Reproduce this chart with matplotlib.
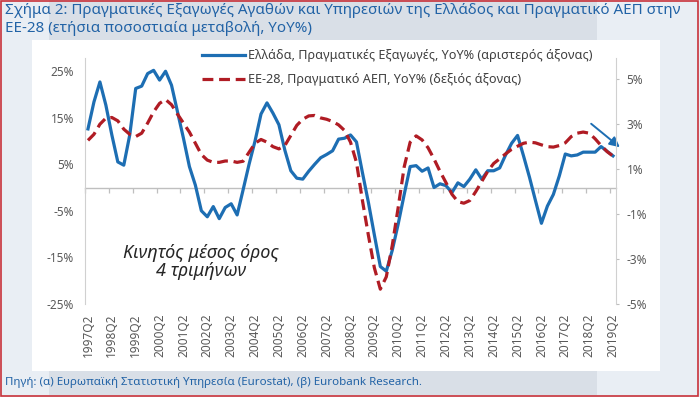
import matplotlib
matplotlib.use("Agg")
import matplotlib.pyplot as plt
from matplotlib.lines import Line2D
from matplotlib.patches import Rectangle
import numpy as np

plt.rcParams['font.family'] = ['Noto Sans', 'DejaVu Sans']

# ---- data ----
# quarterly categories 1997Q2 .. 2019Q2
quarters = []
yy, qq = 1997, 2
while (yy, qq) <= (2019, 2):
    quarters.append(f"{yy}Q{qq}")
    qq += 1
    if qq == 5:
        qq = 1
        yy += 1

greece_exports = [12.6, 18.4, 22.7, 17.7, 11.3, 5.5, 4.8, 11.3, 21.3, 21.8,
                  24.5, 25.2, 23.1, 25.0, 22.0, 16.3, 10.6, 4.5, 0.5, -5.0,
                  -6.3, -4.1, -6.7, -4.3, -3.5, -5.9, -0.5, 5.0, 10.0, 15.8,
                  18.2, 16.0, 13.5, 8.0, 3.6, 2.0, 1.8, 3.5, 5.0, 6.4,
                  7.1, 7.9, 10.4, 10.6, 11.3, 9.8, 3.2, -3.2, -10.2, -17.0,
                  -18.0, -13.5, -7.8, -1.5, 4.5, 4.7, 3.5, 4.2, 0.0, 0.8,
                  0.4, -1.1, 1.0, 0.2, 1.8, 3.8, 1.8, 3.6, 3.6, 4.2,
                  7.0, 9.5, 11.2, 6.8, 2.2, -2.8, -7.7, -4.0, -1.5, 2.5,
                  7.2, 6.8, 7.0, 7.6, 7.6, 7.6, 8.8, 7.8, 6.8]

eu28_gdp = [2.28, 2.55, 3.0, 3.27, 3.3, 3.15, 2.78, 2.55, 2.45, 2.6,
            3.05, 3.55, 3.93, 4.1, 3.87, 3.45, 3.05, 2.65, 2.15, 1.65,
            1.4, 1.3, 1.3, 1.36, 1.36, 1.3, 1.35, 1.75, 2.15, 2.32,
            2.2, 2.0, 1.9, 2.05, 2.5, 2.95, 3.22, 3.37, 3.39, 3.28,
            3.22, 3.12, 2.97, 2.72, 2.2, 1.3, -0.4, -1.95, -3.4, -4.35,
            -3.8, -2.4, -0.7, 1.1, 2.2, 2.48, 2.3, 1.95, 1.45, 0.9,
            0.4, -0.12, -0.45, -0.52, -0.4, 0.0, 0.45, 0.9, 1.25, 1.46,
            1.68, 1.88, 2.02, 2.15, 2.2, 2.17, 2.08, 2.0, 1.98, 2.05,
            2.17, 2.45, 2.6, 2.65, 2.6, 2.35, 2.05, 1.78, 1.58]

left_ticks = [-25, -15, -5, 5, 15, 25]
right_ticks = [-5, -3, -1, 1, 3, 5]

title = ("Σχήμα 2: Πραγματικές Εξαγωγές Αγαθών και Υπηρεσιών της Ελλάδος και Πραγματικό ΑΕΠ στην\n"
         "ΕΕ-28 (ετήσια ποσοστιαία μεταβολή, YoY%)")
source = "Πηγή: (α) Ευρωπαϊκή Στατιστική Υπηρεσία (Eurostat), (β) Eurobank Research."
label_gr = "Ελλάδα, Πραγματικές Εξαγωγές, YoY% (αριστερός άξονας)"
label_eu = "ΕΕ-28, Πραγματικό ΑΕΠ, YoY% (δεξιός άξονας)"
note = "Κινητός μέσος όρος\n4 τριμήνων"

BLUE = '#1d6eb3'
RED = '#b01c24'
TXT_BLUE = '#2263a6'
GRAY = '#595959'

W, H = 700, 397
fig = plt.figure(figsize=(W / 100, H / 100), dpi=100, facecolor='#e9eef4')

def px(x, y):
    return (x / W, 1 - y / H)

# background bands and white panel
fig.patches.append(Rectangle(px(49, 40), (597 - 49) / W, 40 / H, transform=fig.transFigure,
                             facecolor='#d9dfe7', edgecolor='none', zorder=-3))
fig.patches.append(Rectangle(px(49, 395), (597 - 49) / W, 24 / H, transform=fig.transFigure,
                             facecolor='#d9dfe7', edgecolor='none', zorder=-3))
fig.patches.append(Rectangle(px(32, 371), (660 - 32) / W, (371 - 40) / H, transform=fig.transFigure,
                             facecolor='white', edgecolor='none', zorder=-2))
fig.patches.append(Rectangle((0.0015, 0.002), 0.996, 0.996, transform=fig.transFigure,
                             facecolor='none', edgecolor='#c8323a', lw=1.2, zorder=5))

# axes
x0, x1 = 85, 616
ytop, ybot = 58, 303.75
ax = fig.add_axes([x0 / W, 1 - ybot / H, (x1 - x0) / W, (ybot - ytop) / H])
ax.set_facecolor('none')
ax2 = ax.twinx()

xs = np.arange(len(quarters))
ax.plot(xs, greece_exports, color=BLUE, lw=2.3, zorder=3, solid_joinstyle='round')
ax2.plot(xs, eu28_gdp, color=RED, lw=2.3, dashes=(3.4, 1.8), zorder=2)

ax.set_xlim(-0.5, len(quarters) - 0.5)
ax.set_ylim(-25, 27.85)
ax2.set_ylim(-5, 5.95)

ax.set_yticks(left_ticks)
ax.set_yticklabels([f"{t}%" for t in left_ticks])
ax2.set_yticks(right_ticks)
ax2.set_yticklabels([f"{t}%" for t in right_ticks])

label_idx = list(range(0, len(quarters), 4))
ax.set_xticks(label_idx)
ax.set_xticklabels([quarters[i] for i in label_idx], rotation=90)
ax.tick_params(axis='x', length=0, pad=7, labelsize=8.5, labelcolor=GRAY)
ax.tick_params(axis='y', length=0, pad=8, labelsize=8.5, labelcolor=GRAY)
ax2.tick_params(axis='y', length=2.5, width=0.8, color='#bfbfbf', pad=5, labelsize=8.5, labelcolor=GRAY)

for a in (ax, ax2):
    a.spines['top'].set_visible(False)
    a.spines['bottom'].set_visible(False)
    a.spines['left'].set_color('#d0d0d0')
    a.spines['right'].set_color('#d0d0d0')
ax2.spines['left'].set_visible(False)
ax.spines['right'].set_visible(False)

# category axis at zero
sec = ax.secondary_xaxis(0, transform=ax.transData)
sec.set_xticks(np.arange(-0.5, len(quarters) - 1, 4))
sec.set_xticklabels([])
sec.tick_params(axis='x', length=3.5, width=0.9, color='#bfbfbf', direction='out')
sec.spines['bottom'].set_color('#bfbfbf')
sec.spines['bottom'].set_linewidth(1.0)

# legend
handles = [Line2D([], [], color=BLUE, lw=2.3),
           Line2D([], [], color=RED, lw=2.3, dashes=(3.4, 1.8))]
fig.legend(handles, [label_gr, label_eu], loc='upper left',
           bbox_to_anchor=px(202, 49), bbox_transform=fig.transFigure,
           frameon=False, fontsize=9.1, labelcolor='#404040', handlelength=3.4,
           handletextpad=0.25, labelspacing=0.9, borderpad=0, borderaxespad=0)

# texts
fig.text(5 / W, 1 - 3 / H, title, ha='left', va='top', fontsize=10.9, color=TXT_BLUE,
         linespacing=1.25)
fig.text(5 / W, 1 - 383 / H, source, ha='left', va='center', fontsize=8.3, color=TXT_BLUE)
fig.text(*px(201, 262), note, ha='center', va='center', fontsize=13, style='italic',
         color='#262626', linespacing=1.05)

ax.annotate('', xy=px(622, 149), xycoords='figure fraction',
            xytext=px(589, 122), textcoords='figure fraction',
            arrowprops=dict(arrowstyle='-|>,head_length=0.6,head_width=0.3', color=BLUE, lw=1.4),
            annotation_clip=False)

fig.savefig('out.png', dpi=100, facecolor=fig.get_facecolor())
